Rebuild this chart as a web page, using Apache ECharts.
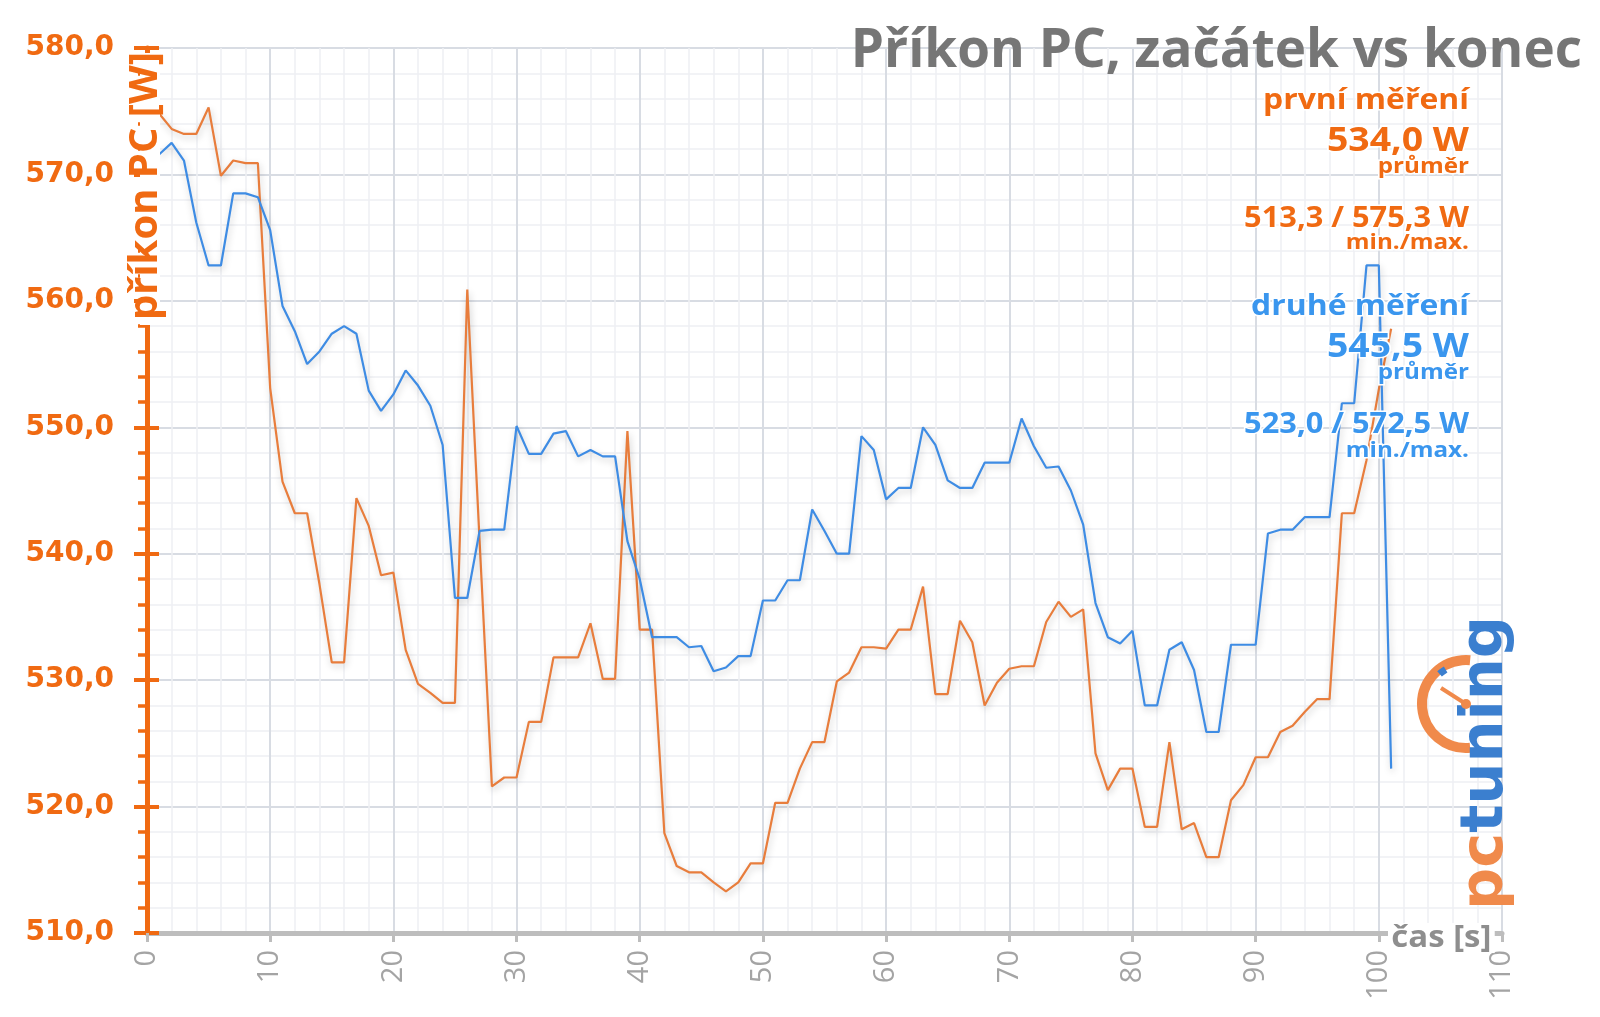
<!DOCTYPE html>
<html>
<head>
<meta charset="utf-8">
<script src="https://cdn.jsdelivr.net/npm/echarts@6/dist/echarts.min.js"></script>
<style>
html,body{margin:0;padding:0;background:#fff;}
#chart{width:1600px;height:1017px;}
</style>
</head>
<body>
<div id="chart"></div>
<script>
// ---- data ----
const seconds = [1,2,3,4,5,6,7,8,9,10,11,12,13,14,15,16,17,18,19,20,21,22,23,24,25,26,27,28,29,30,
  31,32,33,34,35,36,37,38,39,40,41,42,43,44,45,46,47,48,49,50,51,52,53,54,55,56,57,58,59,60,
  61,62,63,64,65,66,67,68,69,70,71,72,73,74,75,76,77,78,79,80,81,82,83,84,85,86,87,88,89,90,
  91,92,93,94,95,96,97,98,99,100,101];

const prvniMereni = [574.8,573.6,573.2,573.2,575.3,569.9,571.1,570.9,570.9,553.1,
  545.7,543.2,543.2,537.6,531.4,531.4,544.4,542.2,538.3,538.5,
  532.4,529.7,529.0,528.2,528.2,560.9,541.0,521.6,522.3,522.3,
  526.7,526.7,531.8,531.8,531.8,534.5,530.1,530.1,549.7,534.0,
  534.0,517.9,515.3,514.8,514.8,514.0,513.3,514.0,515.5,515.5,
  520.3,520.3,523.0,525.1,525.1,529.9,530.6,532.6,532.6,532.5,
  534.0,534.0,537.4,528.9,528.9,534.7,533.0,528.0,529.8,530.9,
  531.1,531.1,534.6,536.2,535.0,535.6,524.2,521.3,523.0,523.0,
  518.4,518.4,525.1,518.2,518.7,516.0,516.0,520.5,521.7,523.9,
  523.9,525.9,526.4,527.5,528.5,528.5,543.2,543.2,547.4,553.0,
  557.8];

const druheMereni = [571.6,572.5,571.1,566.2,562.8,562.8,568.5,568.5,568.2,565.6,
  559.6,557.6,555.0,556.0,557.4,558.0,557.4,552.9,551.3,552.6,
  554.5,553.3,551.7,548.6,536.5,536.5,541.8,541.9,541.9,550.1,
  547.9,547.9,549.5,549.7,547.7,548.2,547.7,547.7,541.0,538.0,
  533.4,533.4,533.4,532.6,532.7,530.7,531.0,531.9,531.9,536.3,
  536.3,537.9,537.9,543.5,541.8,540.0,540.0,549.3,548.2,544.3,
  545.2,545.2,550.0,548.6,545.8,545.2,545.2,547.2,547.2,547.2,
  550.7,548.5,546.8,546.9,545.0,542.3,536.1,533.4,532.9,533.9,
  528.0,528.0,532.4,533.0,530.8,525.9,525.9,532.8,532.8,532.8,
  541.6,541.9,541.9,542.9,542.9,542.9,551.9,551.9,562.8,562.8,
  523.0];

const yMin = 510, yMax = 580, yStep = 10;
const xMin = 0, xMax = 110, xStep = 10;

const titleText = 'Příkon PC, začátek vs konec';
const yAxisName = 'příkon PC [W]';
const xAxisName = 'čas [s]';
const firstLegend = ['první měření', '534,0 W', 'průměr', '513,3 / 575,3 W', 'min./max.'];
const secondLegend = ['druhé měření', '545,5 W', 'průměr', '523,0 / 572,5 W', 'min./max.'];

// ---- styles ----
const ORANGE_TXT = '#f06a12';
const BLUE_TXT = '#3a96ee';
const ORANGE_LINE = '#e87d3c';
const BLUE_LINE = '#3e8ce4';
const GRID_MAJOR = '#d8dce3';
const GRID_MINOR = '#eef0f4';
const FONT = '"Open Sans", "Noto Sans", sans-serif';
const WIDE_FONT = '"DejaVu Sans", sans-serif';

function fmt(v) { return v.toFixed(1).replace('.', ','); }

function txt(text, x, y, size, color, extra) {
  return Object.assign({
    type: 'text', x: x, y: y, z: 50, scaleX: 1.1,
    style: {
      text: text, fill: color, fontSize: size, fontWeight: 'bold', fontFamily: FONT,
      align: 'right', verticalAlign: 'middle',
      stroke: '#ffffff', lineWidth: 3
    }
  }, extra || {});
}

const LX = 1469;
const graphics = [
  { type: 'text', x: 1582, y: 52, z: 50,
    style: { text: titleText, fill: '#767676', fontSize: 53, fontWeight: 'bold', fontFamily: FONT,
             align: 'right', verticalAlign: 'middle' } },
  txt(firstLegend[0], LX, 101, 29, ORANGE_TXT),
  txt(firstLegend[1], LX, 141, 34, ORANGE_TXT),
  txt(firstLegend[2], LX, 167, 22, ORANGE_TXT),
  txt(firstLegend[3], LX, 219, 28, ORANGE_TXT),
  txt(firstLegend[4], LX, 243, 22, ORANGE_TXT),
  txt(secondLegend[0], LX, 307, 29, BLUE_TXT),
  txt(secondLegend[1], LX, 347, 34, BLUE_TXT),
  txt(secondLegend[2], LX, 373, 22, BLUE_TXT),
  txt(secondLegend[3], LX, 425, 28, BLUE_TXT),
  txt(secondLegend[4], LX, 451, 22, BLUE_TXT),
  // white strip hiding the axis line behind the rotated axis name
  { type: 'rect', z: 55, shape: { x: 140, y: 53, width: 20, height: 272 }, style: { fill: '#ffffff' } },
  // y-axis name (rotated)
  { type: 'text', x: 146, y: 52, z: 60, rotation: Math.PI / 2,
    style: { text: yAxisName, fill: ORANGE_TXT, fontSize: 40, fontWeight: 'bold', fontFamily: FONT,
             align: 'right', verticalAlign: 'middle' } },
  // x-axis name
  { type: 'text', x: 1388, y: 938, z: 60, scaleX: 1.1,
    style: { text: xAxisName, fill: '#8e8e8e', fontSize: 30, fontWeight: 'bold', fontFamily: FONT,
             align: 'left', verticalAlign: 'middle', backgroundColor: '#ffffff', padding: [0, 3, 0, 3] } },
  // pctuning logo (decorative)
  { type: 'arc', z: 40, shape: { cx: 1466, cy: 704, r: 44, startAngle: Math.PI * 0.47, endAngle: Math.PI * 1.53, clockwise: true },
    style: { stroke: '#f08a4b', lineWidth: 10, fill: null } },
  { type: 'arc', z: 41, shape: { cx: 1466, cy: 704, r: 40, startAngle: Math.PI * 1.27, endAngle: Math.PI * 1.33, clockwise: true },
    style: { stroke: '#3b7fcf', lineWidth: 7, fill: null } },
  { type: 'line', z: 41, shape: { x1: 1441, y1: 688, x2: 1466, y2: 704 },
    style: { stroke: '#f08a4b', lineWidth: 4 } },
  { type: 'circle', z: 41, shape: { cx: 1466, cy: 704, r: 5 }, style: { fill: '#f08a4b' } },
  { type: 'text', x: 1487, y: 910, z: 40, rotation: Math.PI / 2,
    style: { text: '{a|pc}{b|tuning}', align: 'left', verticalAlign: 'middle',
             rich: { a: { fill: '#f08a4b', fontSize: 59, fontWeight: 'bold', fontFamily: WIDE_FONT },
                     b: { fill: '#3b7fcf', fontSize: 59, fontWeight: 'bold', fontFamily: WIDE_FONT } } } }
];

const chart = echarts.init(document.getElementById('chart'), null, { renderer: 'canvas' });
chart.setOption({
  animation: false,
  backgroundColor: '#ffffff',
  grid: { left: 147, right: 98, top: 48, bottom: 84, containLabel: false },
  xAxis: {
    type: 'value', min: xMin, max: xMax, interval: xStep,
    axisLine: { show: true, onZero: false, lineStyle: { color: '#bdbdbd', width: 5 } },
    axisTick: { show: true, length: 9, lineStyle: { color: '#bdbdbd', width: 3 } },
    axisLabel: { rotate: 90, fontSize: 29, color: '#a4a4a4', margin: 17, fontFamily: FONT },
    splitLine: { show: true, lineStyle: { color: GRID_MAJOR, width: 2 } },
    minorTick: { show: false, splitNumber: 5 },
    minorSplitLine: { show: true, lineStyle: { color: GRID_MINOR, width: 1.5 } }
  },
  yAxis: [{
    type: 'value', min: yMin, max: yMax, interval: yStep,
    axisLine: { show: true, lineStyle: { color: ORANGE_TXT, width: 5 } },
    axisTick: { show: true, inside: false, length: 13, lineStyle: { color: ORANGE_TXT, width: 4 } },
    minorTick: { show: true, splitNumber: 5, length: 9, lineStyle: { color: ORANGE_TXT, width: 3.5 } },
    axisLabel: { formatter: fmt, fontSize: 28, fontWeight: 'bold', color: ORANGE_TXT, margin: 33, fontFamily: WIDE_FONT },
    splitLine: { show: true, lineStyle: { color: GRID_MAJOR, width: 2 } },
    minorSplitLine: { show: true, lineStyle: { color: GRID_MINOR, width: 1.5 } }
  }, {
    type: 'value', min: yMin, max: yMax, interval: yStep, position: 'left',
    axisLine: { show: false },
    axisTick: { show: true, inside: true, length: 12, lineStyle: { color: ORANGE_TXT, width: 4 } },
    axisLabel: { show: false },
    splitLine: { show: false }
  }],
  series: [{
    name: 'první měření', type: 'line', yAxisIndex: 0,
    data: seconds.map((t, i) => [t, prvniMereni[i]]),
    showSymbol: false, symbol: 'none', z: 3,
    lineStyle: { color: ORANGE_LINE, width: 2.2, shadowColor: 'rgba(0,0,0,0.22)', shadowBlur: 7, shadowOffsetY: 3, shadowOffsetX: 1 }
  }, {
    name: 'druhé měření', type: 'line', yAxisIndex: 0,
    data: seconds.map((t, i) => [t, druheMereni[i]]),
    showSymbol: false, symbol: 'none', z: 4,
    lineStyle: { color: BLUE_LINE, width: 2.2, shadowColor: 'rgba(0,0,0,0.22)', shadowBlur: 7, shadowOffsetY: 3, shadowOffsetX: 1 }
  }],
  graphic: graphics
});
</script>
</body>
</html>
